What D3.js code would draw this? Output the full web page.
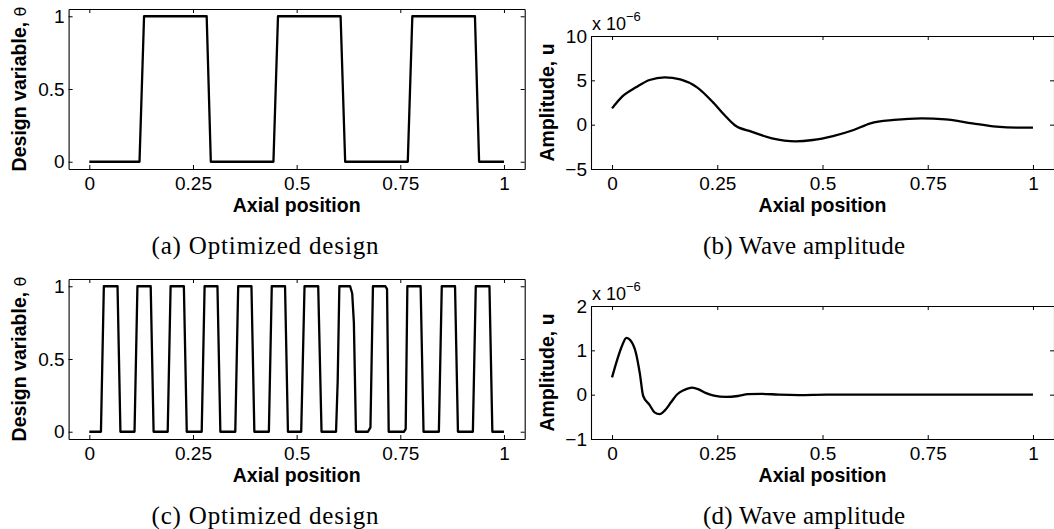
<!DOCTYPE html>
<html>
<head>
<meta charset="utf-8">
<script src="https://cdn.jsdelivr.net/npm/d3@7"></script>
<style>
  body { margin: 0; background: #fff; }
  svg { display: block; }
  .tick text { font-family: "Liberation Sans", Arial, sans-serif; font-size: 19px; fill: #000; }
  .axis-label { font-family: "Liberation Sans", Arial, sans-serif; font-size: 19.5px; font-weight: bold; }
  .caption { font-family: "Liberation Serif", serif; font-size: 25px; }
</style>
</head>
<body>
<div id="chart"></div>
<script>
// ---- data ----
const xTicks = [0, 0.25, 0.5, 0.75, 1];
const designTicks = [0, 0.5, 1];
const ampTicksB = [-5, 0, 5, 10];
const ampTicksD = [-1, 0, 1, 2];

// (a) optimized design, 3 cells
const designA_x = [0, 0.121, 0.132, 0.283, 0.293, 0.444, 0.455, 0.606, 0.617, 0.768, 0.779, 0.930, 0.940, 1];
const designA_y = [0, 0, 1, 1, 0, 0, 1, 1, 0, 0, 1, 1, 0, 0];

// (b) wave amplitude, x 1e-6
const ampB_x = [0, 0.024, 0.057, 0.089, 0.125, 0.162, 0.202, 0.242, 0.267, 0.291, 0.331, 0.380, 0.436,
                0.477, 0.525, 0.574, 0.614, 0.670, 0.735, 0.792, 0.856, 0.913, 0.961, 1];
const ampB_y = [1.84, 3.16, 4.21, 5.04, 5.34, 5.11, 4.21, 2.41, 1.09, -0.04, -0.79, -1.54, -1.88,
                -1.73, -1.28, -0.60, 0.15, 0.53, 0.71, 0.60, 0.15, -0.23, -0.34, -0.34];

// (c) optimized design, 12 cells
const designC_x = [0,
  0.028, 0.035, 0.068, 0.075,
  0.109, 0.116, 0.148, 0.155,
  0.189, 0.196, 0.228, 0.235,
  0.271, 0.278, 0.309, 0.316,
  0.352, 0.359, 0.391, 0.398,
  0.433, 0.440, 0.472, 0.479,
  0.511, 0.519, 0.552, 0.560,
  0.595, 0.599, 0.603, 0.629, 0.634, 0.638, 0.643,
  0.672, 0.678, 0.684, 0.714, 0.718, 0.722,
  0.759, 0.763, 0.767, 0.799, 0.806,
  0.843, 0.850, 0.882, 0.889,
  0.925, 0.932, 0.965, 0.972,
  1];
const designC_y = [0,
  0, 1, 1, 0,
  0, 1, 1, 0,
  0, 1, 1, 0,
  0, 1, 1, 0,
  0, 1, 1, 0,
  0, 1, 1, 0,
  0, 1, 1, 0,
  0, 0.35, 1, 1, 0.95, 0.75, 0,
  0, 0.03, 1, 1, 0.98, 0,
  0, 0.02, 1, 1, 0,
  0, 1, 1, 0,
  0, 1, 1, 0,
  0];

// (d) wave amplitude, x 1e-6
const ampD_x = [0, 0.012, 0.024, 0.034, 0.044, 0.057, 0.066, 0.074, 0.089, 0.101, 0.113, 0.125, 0.141,
                0.155, 0.170, 0.190, 0.206, 0.222, 0.242, 0.271, 0.299, 0.323, 0.355, 0.396, 0.444, 0.509, 1];
const ampD_y = [0.39, 0.78, 1.11, 1.28, 1.22, 0.93, 0.48, -0.03, -0.23, -0.40, -0.44, -0.36, -0.16,
                0.01, 0.10, 0.16, 0.12, 0.04, -0.02, -0.05, -0.03, 0.01, 0.02, 0.0, -0.01, 0, 0];

const width = 1054, height = 529;

const svg = d3.select("#chart").append("svg")
    .attr("width", width)
    .attr("height", height);

const fmt = d => (d < 0 ? "\u2212" + Math.abs(d) : String(d));

function drawPanel(p) {
    const x = d3.scaleLinear().domain([-0.05, 1.05]).range([p.left, p.right]);
    const y = d3.scaleLinear().domain(p.yDomain).range([p.bottom, p.top]);
    const g = svg.append("g");

    // box with inward ticks on all four sides
    g.append("g")
        .attr("transform", `translate(0,${p.bottom})`)
        .call(d3.axisBottom(x).tickValues(xTicks).tickSizeInner(-4).tickSizeOuter(0)
              .tickPadding(8).tickFormat(fmt));
    g.append("g")
        .attr("transform", `translate(0,${p.top})`)
        .call(d3.axisTop(x).tickValues(xTicks).tickSizeInner(-4).tickSizeOuter(0).tickFormat(""));
    g.append("g")
        .attr("transform", `translate(${p.left},0)`)
        .call(d3.axisLeft(y).tickValues(p.yTicks).tickSizeInner(-4).tickSizeOuter(0)
              .tickPadding(4).tickFormat(fmt));
    g.append("g")
        .attr("transform", `translate(${p.right},0)`)
        .call(d3.axisRight(y).tickValues(p.yTicks).tickSizeInner(-4).tickSizeOuter(0).tickFormat(""));

    g.selectAll(".domain").attr("stroke", "#000").attr("stroke-width", 1.1);
    g.selectAll(".tick line").attr("stroke", "#000");

    // curve
    const pts = p.xs.map((v, i) => [v, p.ys[i]]);
    g.append("path")
        .datum(pts)
        .attr("fill", "none")
        .attr("stroke", "#000")
        .attr("stroke-width", 2.3)
        .attr("stroke-linejoin", "round")
        .attr("d", d3.line().x(d => x(d[0])).y(d => y(d[1])).curve(p.curve));

    // axis labels
    g.append("text")
        .attr("class", "axis-label")
        .attr("x", (p.left + p.right) / 2)
        .attr("y", p.bottom + 43)
        .attr("text-anchor", "middle")
        .text("Axial position");

    const yl = g.append("text")
        .attr("class", "axis-label")
        .attr("text-anchor", "middle")
        .attr("transform", `translate(${p.ylabX},${(p.top + p.bottom) / 2}) rotate(-90)`)
        .text(p.ylabel);
    if (p.ylabelExtra) {
        yl.append("tspan").attr("font-weight", "normal").attr("font-size", "16px")
          .attr("font-family", "DejaVu Sans").text(p.ylabelExtra);
    }

    if (p.exponent) {
        const e = g.append("text")
            .attr("x", p.left + 1)
            .attr("y", p.top - 6)
            .attr("font-family", "Liberation Sans, Arial, sans-serif")
            .attr("font-size", "18px")
            .text("x 10");
        e.append("tspan").attr("dy", -9).attr("font-size", "13px").text("\u22126");
    }

    g.append("text")
        .attr("class", "caption")
        .attr("x", p.capX)
        .attr("y", p.capY)
        .attr("text-anchor", "middle")
        .attr("textLength", p.capW)
        .attr("lengthAdjust", "spacing")
        .text(p.caption);
}

drawPanel({ left: 68.6, right: 524.7, top: 9, bottom: 169, yDomain: [-0.05, 1.05], yTicks: designTicks,
            xs: designA_x, ys: designA_y, curve: d3.curveLinear,
            ylabel: "Design variable, ", ylabelExtra: "\u03b8", ylabX: 26,
            caption: "(a)  Optimized design", capX: 265, capY: 254, capW: 227 });
drawPanel({ left: 591, right: 1054, top: 36, bottom: 169, yDomain: [-5, 10], yTicks: ampTicksB,
            xs: ampB_x, ys: ampB_y, curve: d3.curveMonotoneX, exponent: true,
            ylabel: "Amplitude, u", ylabX: 554,
            caption: "(b)  Wave amplitude", capX: 804, capY: 254, capW: 202 });
drawPanel({ left: 68.6, right: 524.7, top: 279, bottom: 439, yDomain: [-0.05, 1.05], yTicks: designTicks,
            xs: designC_x, ys: designC_y, curve: d3.curveLinear,
            ylabel: "Design variable, ", ylabelExtra: "\u03b8", ylabX: 26,
            caption: "(c)  Optimized design", capX: 265, capY: 524, capW: 227 });
drawPanel({ left: 591, right: 1054, top: 306, bottom: 439, yDomain: [-1, 2], yTicks: ampTicksD,
            xs: ampD_x, ys: ampD_y, curve: d3.curveMonotoneX, exponent: true,
            ylabel: "Amplitude, u", ylabX: 554,
            caption: "(d)  Wave amplitude", capX: 804, capY: 524, capW: 202 });
</script>
</body>
</html>
